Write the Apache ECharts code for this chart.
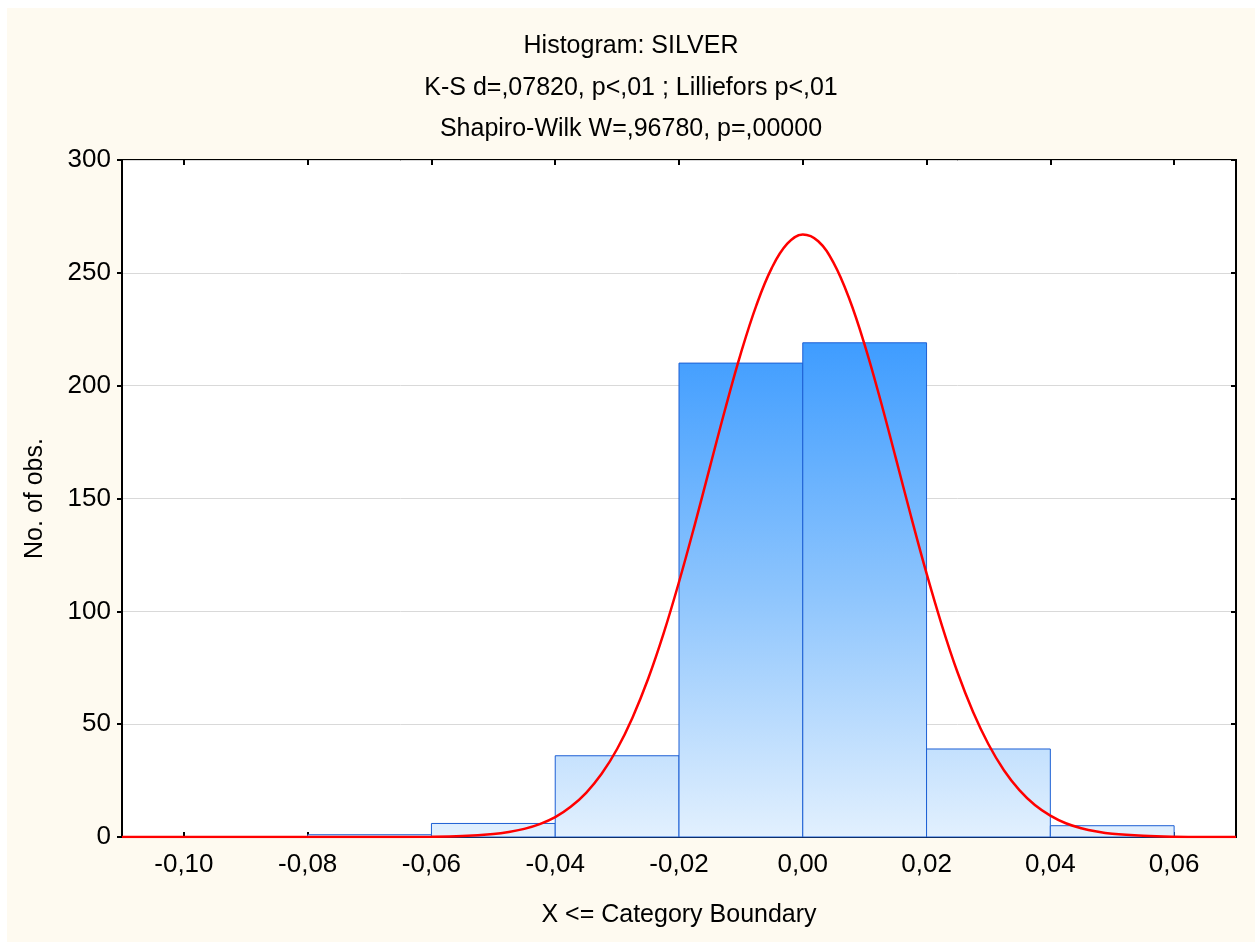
<!DOCTYPE html>
<html>
<head>
  <meta charset="UTF-8" />
  <title>Histogram: SILVER</title>
  <script src="https://cdn.jsdelivr.net/npm/echarts@6/dist/echarts.min.js"></script>
  <style>
    html, body { margin: 0; padding: 0; background: #ffffff; }
    #chart { position: absolute; left: 7px; top: 8px; width: 1248px; height: 934px; }
  </style>
</head>
<body>
  <div id="chart"></div>
  <script>
    // histogram bins (width 0,02), counts
    const binStart = [-0.10, -0.08, -0.06, -0.04, -0.02, 0.00, 0.02, 0.04];
    const binEnd = [-0.08, -0.06, -0.04, -0.02, 0.00, 0.02, 0.04, 0.06];
    const binCount = [0, 1, 6, 36, 210, 219, 39, 5];

    // fitted normal curve
    const curveX = [
      -0.110, -0.100, -0.090, -0.080, -0.070, -0.060, -0.055, -0.050, -0.0475, -0.045,
      -0.0425, -0.040, -0.0375, -0.035, -0.0325, -0.030, -0.0275, -0.025, -0.0225, -0.020,
      -0.0175, -0.015, -0.0125, -0.010, -0.0075, -0.005, -0.0025, 0.000, 0.0025, 0.005,
      0.0075, 0.010, 0.0125, 0.015, 0.0175, 0.020, 0.0225, 0.025, 0.0275, 0.030,
      0.0325, 0.035, 0.0375, 0.040, 0.0425, 0.045, 0.0475, 0.050, 0.055, 0.060,
      0.065, 0.070
    ];
    const curveY = [
      0, 0, 0, 0, 0, 0.1, 0.4, 1.3, 2.2, 3.6,
      5.7, 8.8, 13.4, 19.6, 28.0, 39.0, 53.0, 70.0, 90.1, 113.0,
      137.9, 164.0, 190.0, 214.4, 235.6, 252.2, 262.9, 267.0, 264.0, 254.3,
      238.6, 218.1, 194.1, 168.2, 142.0, 116.8, 93.6, 73.0, 55.5, 41.1,
      29.6, 20.8, 14.2, 9.5, 6.1, 3.9, 2.4, 1.4, 0.5, 0.1,
      0, 0
    ];

    const xTicks = [-0.10, -0.08, -0.06, -0.04, -0.02, 0.00, 0.02, 0.04, 0.06];
    const titleLines = [
      'Histogram: SILVER',
      'K-S d=,07820, p<,01 ; Lilliefors p<,01',
      'Shapiro-Wilk W=,96780, p=,00000'
    ];

    const FONT = '"Liberation Sans", Arial, sans-serif';

    function fmtTick(v) {
      return v.toFixed(2).replace('.', ',').replace('-0,00', '0,00');
    }

    const barData = binStart.map((s, i) => [s, binEnd[i], binCount[i]]);
    const curveData = curveX.map((x, i) => [x, curveY[i]]);

    const chart = echarts.init(document.getElementById('chart'));

    const tickStyle = { color: '#000', width: 2 };

    const option = {
      backgroundColor: '#fefaf0',
      animation: false,
      title: titleLines.map((t, i) => ({
        text: t,
        left: 'center',
        top: 21 + i * 41.5,
        textStyle: { fontFamily: FONT, fontSize: 25, fontWeight: 'normal', color: '#000' }
      })),
      grid: {
        left: 115, right: 19, top: 152, bottom: 105,
        show: true, backgroundColor: '#ffffff', borderColor: '#000', borderWidth: 2
      },
      xAxis: [
        {
          type: 'value', min: -0.11, max: 0.07,
          name: 'X <= Category Boundary', nameLocation: 'middle', nameGap: 66,
          nameTextStyle: { fontFamily: FONT, fontSize: 25, color: '#000' },
          axisLine: { show: true, onZero: false, lineStyle: tickStyle },
          axisTick: { show: true, inside: true, length: 5, customValues: xTicks, lineStyle: tickStyle },
          axisLabel: {
            customValues: xTicks, margin: 15,
            fontFamily: FONT, fontSize: 26, color: '#000',
            formatter: fmtTick
          },
          splitLine: { show: false }
        },
        {
          type: 'value', min: -0.11, max: 0.07, position: 'top',
          axisLine: { show: false, onZero: false },
          axisTick: { show: true, inside: true, length: 5, customValues: xTicks, lineStyle: tickStyle },
          axisLabel: { show: false },
          splitLine: { show: false }
        }
      ],
      yAxis: [
        {
          type: 'value', min: 0, max: 300, interval: 50,
          name: 'No. of obs.', nameLocation: 'middle', nameGap: 74,
          nameTextStyle: { fontFamily: FONT, fontSize: 25, color: '#000' },
          axisLine: { show: true, onZero: false, lineStyle: tickStyle },
          axisTick: { show: true, length: 5, lineStyle: tickStyle },
          axisLabel: { margin: 11, fontFamily: FONT, fontSize: 26, color: '#000' },
          splitLine: { show: true, lineStyle: { color: '#d9d9d9', width: 1 } }
        },
        {
          type: 'value', min: 0, max: 300, interval: 50, position: 'right',
          axisLine: { show: false, onZero: false },
          axisTick: { show: true, inside: true, length: 5, lineStyle: tickStyle },
          axisLabel: { show: false },
          splitLine: { show: false }
        }
      ],
      series: [
        {
          type: 'custom',
          xAxisIndex: 0, yAxisIndex: 0,
          data: barData,
          z: 2,
          renderItem(params, api) {
            const n = api.value(2);
            if (!n) return null;
            const p0 = api.coord([api.value(0), n]);
            const p1 = api.coord([api.value(1), 0]);
            const yTop = api.coord([0, 220])[1];
            const yBot = api.coord([0, 0])[1];
            return {
              type: 'rect',
              shape: { x: p0[0], y: p0[1], width: p1[0] - p0[0], height: p1[1] - p0[1] },
              style: {
                fill: {
                  type: 'linear', x: 0, y: yTop, x2: 0, y2: yBot, global: true,
                  colorStops: [
                    { offset: 0, color: '#3e9cff' },
                    { offset: 0.5, color: '#8cc4fd' },
                    { offset: 1, color: '#e2f0fe' }
                  ]
                },
                stroke: '#1c5fd4',
                lineWidth: 1
              }
            };
          }
        },
        {
          type: 'line',
          xAxisIndex: 0, yAxisIndex: 0,
          data: curveData,
          smooth: 0.4,
          showSymbol: false,
          symbol: 'none',
          z: 3,
          lineStyle: { color: '#ff0000', width: 2.5 }
        }
      ]
    };

    chart.setOption(option);
  </script>
</body>
</html>
